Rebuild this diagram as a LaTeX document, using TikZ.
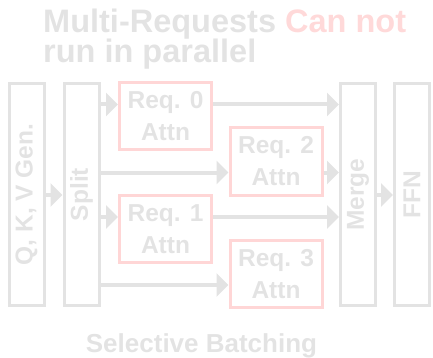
\documentclass[tikz,border=0pt]{standalone}
\usepackage{fontspec}
\setmainfont{Liberation Sans}
\usetikzlibrary{arrows.meta}
\definecolor{fadegrey}{HTML}{E3E3E3}
\definecolor{fadepink}{HTML}{FFD6D6}
\definecolor{fadepinktext}{HTML}{FFD9D9}
\tikzset{
  tallbox/.style={draw=fadegrey, line width=3pt, minimum width=35pt, minimum height=222pt,
    inner sep=0pt, text=fadegrey, font=\fontsize{24.5}{28}\selectfont\bfseries},
  reqbox/.style={draw=fadepink, line width=3pt, minimum width=92pt, minimum height=67pt,
    inner sep=0pt, text=fadegrey, align=center,
    font=\fontsize{24.5}{32}\selectfont\bfseries},
  arr/.style={draw=fadegrey, line width=4pt, -{Triangle[length=12pt,width=23pt]}},
  titletext/.style={text=fadegrey, inner sep=0pt, font=\fontsize{32.5}{32}\selectfont\bfseries},
}
\begin{document}
\begin{tikzpicture}[x=1pt, y=-1pt]
  \useasboundingbox (0,0) rectangle (433,358);

  % heading
  \node[titletext, anchor=base west] (t1) at (43,33) {Multi-Requests \textcolor{fadepinktext}{Can not}};
  \node[titletext, anchor=base west] (t2) at (43,63) {run in parallel};

  % pipeline stages
  \node[tallbox] (qkv)   at (26.5,194.5) {\rotatebox{90}{Q, K, V Gen.}};
  \node[tallbox] (split) at (81.5,194.5) {\rotatebox{90}{Split}};
  \node[tallbox] (merge) at (358,194.5)  {\rotatebox{90}{Merge}};
  \node[tallbox] (ffn)   at (412,194.5)  {\rotatebox{90}{FFN}};

  % per-request attention
  \node[reqbox] (req0) at (165.5,116)   {Req. 0\\Attn};
  \node[reqbox] (req1) at (165.5,229)   {Req. 1\\Attn};
  \node[reqbox] (req2) at (276,161.5)   {Req. 2\\Attn};
  \node[reqbox] (req3) at (276,274)     {Req. 3\\Attn};

  % rows of the connectors
  \coordinate (rowA) at (0,104.5);
  \coordinate (rowB) at (0,172.5);
  \coordinate (rowC) at (0,217);
  \coordinate (rowD) at (0,285);
  \coordinate (rowM) at (0,195);

  % connectors
  \draw[arr] (qkv.east |- rowM) -- (split.west |- rowM);
  \draw[arr] (split.east |- rowA) -- (req0.west |- rowA);
  \draw[arr] (split.east |- rowC) -- (req1.west |- rowC);
  \draw[arr] (split.east |- rowB) -- (req2.west |- rowB);
  \draw[arr] (split.east |- rowD) -- (req3.west |- rowD);
  \draw[arr] (req0.east |- rowA) -- (merge.west |- rowA);
  \draw[arr] (req2.east |- rowB) -- (merge.west |- rowB);
  \draw[arr] (req1.east |- rowC) -- (merge.west |- rowC);
  \draw[arr] (merge.east |- rowM) -- (ffn.west |- rowM);

  % caption
  \node[titletext, font=\fontsize{26}{26}\selectfont\bfseries, anchor=base] (cap) at (201.5,352) {Selective Batching};
\end{tikzpicture}
\end{document}
